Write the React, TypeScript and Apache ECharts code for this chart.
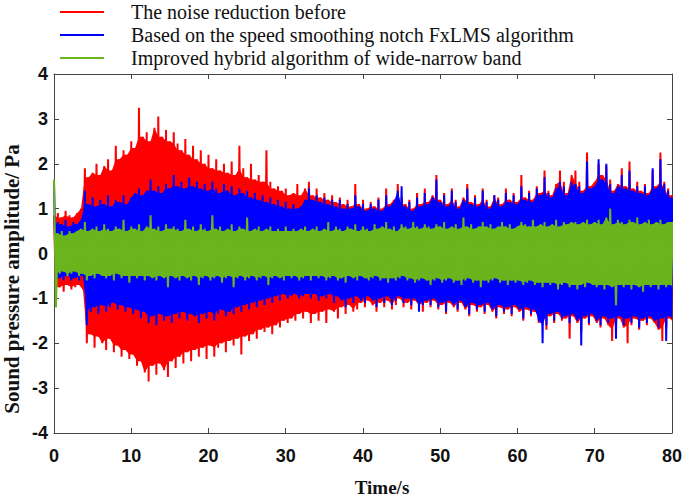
import React, { useEffect, useRef } from "react";
import * as echarts from "echarts";

// Sampling step of the read peak envelopes (seconds)
const T_STEP = 0.5;
const X_TICKS = [0, 80, 10];
const Y_TICKS = [-4, 4, 1];

const SERIES_NAMES = [
  "The noise reduction before",
  "Based on the speed smoothing notch FxLMS algorithm",
  "Improved hybrid algorithm of wide-narrow band",
];
const COLORS = ["#ff0000", "#0000ff", "#6ab41e"];

// Positive peaks, one every 0.5 s (t = 0 ... 80)
const RED_UPPER = [
  0.85, 0.9, 0.8, 0.95, 0.85, 0.8, 0.9, 1.0, 1.9, 1.7,
  1.8, 2.0, 1.75, 1.95, 2.1, 1.85, 2.4, 2.1, 2.3, 2.2,
  2.5, 2.35, 3.25, 2.6, 2.7, 2.5, 2.8, 3.05, 2.6, 2.75,
  2.5, 2.7, 2.45, 2.3, 2.55, 2.2, 2.4, 2.1, 2.3, 2.0,
  2.2, 1.9, 2.1, 1.85, 2.0, 1.8, 2.05, 1.75, 2.4, 1.9,
  1.7, 2.0, 1.65, 1.75, 1.6, 2.3, 1.6, 1.45, 1.5, 1.4,
  1.45, 1.3, 1.35, 1.55, 1.3, 1.45, 1.6, 1.3, 1.45, 1.25,
  1.35, 1.2, 1.3, 1.15, 1.25, 1.1, 1.2, 1.05, 1.55, 1.1,
  1.2, 1.0, 1.15, 1.05, 1.25, 1.0, 1.45, 1.1, 1.2, 1.55,
  1.25, 1.1, 1.2, 1.0, 1.35, 1.1, 1.45, 1.15, 1.3, 1.75,
  1.2, 1.35, 1.1, 1.45, 1.2, 1.05, 1.25, 1.55, 1.15, 1.3,
  1.1, 1.45, 1.2, 1.05, 1.3, 1.25, 1.1, 1.45, 1.2, 1.35,
  1.15, 1.75, 1.25, 1.4, 1.2, 1.5, 1.35, 1.85, 1.4, 1.3,
  1.55, 1.85, 1.6, 1.35, 1.75, 1.85, 1.6, 1.4, 2.25, 1.5,
  1.6, 2.0, 1.75, 1.95, 1.65, 1.4, 1.55, 1.9, 1.5, 2.05,
  1.45, 1.6, 1.4, 1.55, 1.35, 1.85, 1.5, 2.25, 1.6, 1.45,
  1.3,
];
// Negative peaks, one every 0.5 s (read 0.25 s after the positive one)
const RED_LOWER = [
  -0.8, -0.75, -0.85, -0.7, -0.8, -0.75, -0.7, -0.8, -2.0, -1.8,
  -2.1, -1.85, -2.0, -2.15, -1.9, -2.2, -2.05, -2.3, -2.15, -2.35,
  -2.25, -2.5, -2.4, -2.65, -2.85, -2.5, -2.7, -2.45, -2.6, -2.75,
  -2.4, -2.55, -2.3, -2.45, -2.2, -2.4, -2.15, -2.3, -2.1, -2.35,
  -2.05, -2.3, -2.1, -2.0, -2.2, -1.95, -2.05, -1.9, -2.25, -1.85,
  -1.95, -1.8, -1.9, -1.7, -1.75, -1.65, -1.8, -1.6, -1.65, -1.5,
  -1.55, -1.45, -1.5, -1.35, -1.45, -1.3, -1.55, -1.35, -1.5, -1.3,
  -1.55, -1.25, -1.3, -1.45, -1.2, -1.35, -1.15, -1.3, -1.25, -1.1,
  -1.2, -1.05, -1.15, -1.3, -1.1, -1.2, -1.05, -1.25, -1.15, -1.0,
  -1.2, -1.1, -1.25, -1.05, -1.15, -1.3, -1.1, -1.2, -1.05, -1.25,
  -1.15, -1.35, -1.1, -1.2, -1.3, -1.1, -1.25, -1.4, -1.15, -1.3,
  -1.2, -1.35, -1.15, -1.3, -1.45, -1.2, -1.35, -1.25, -1.4, -1.2,
  -1.3, -1.5, -1.25, -1.4, -1.3, -1.55, -1.35, -1.7, -1.4, -1.55,
  -1.35, -1.5, -1.45, -1.9, -1.4, -1.55, -1.75, -1.45, -1.6, -1.4,
  -1.55, -1.65, -1.45, -1.6, -1.95, -1.7, -1.45, -1.65, -2.0, -1.6,
  -1.45, -1.7, -1.5, -1.6, -1.45, -1.55, -1.7, -1.95, -1.65, -1.45,
  -1.55,
];
const BLUE_UPPER = [
  1.6, 0.7, 0.65, 0.75, 0.6, 0.7, 0.65, 0.75, 1.4, 1.1,
  1.25, 1.05, 1.2, 1.1, 1.3, 1.05, 1.2, 1.15, 1.3, 1.1,
  1.25, 1.35, 1.45, 1.3, 1.4, 1.65, 1.4, 1.5, 1.35, 1.55,
  1.45, 1.75, 1.5, 1.6, 1.45, 1.7, 1.5, 1.6, 1.45, 1.55,
  1.4, 1.6, 1.45, 1.35, 1.55, 1.4, 1.5, 1.3, 1.45, 1.35,
  1.4, 1.25, 1.35, 1.2, 1.3, 1.15, 1.25, 1.1, 1.2, 1.05,
  1.15, 1.0, 1.1, 1.0, 1.05, 1.2, 1.45, 1.2, 1.3, 1.15,
  1.25, 1.1, 1.2, 1.05, 1.2, 1.0, 1.1, 1.0, 1.3, 1.05,
  1.1, 0.95, 1.1, 1.0, 1.2, 0.95, 1.3, 1.05, 1.15, 1.4,
  1.5, 1.05, 1.15, 0.95, 1.25, 1.05, 1.35, 1.1, 1.25, 1.65,
  1.15, 1.3, 1.05, 1.4, 1.15, 1.0, 1.2, 1.45, 1.1, 1.25,
  1.05, 1.4, 1.15, 1.0, 1.3, 1.2, 1.05, 1.35, 1.15, 1.3,
  1.1, 1.5, 1.2, 1.35, 1.15, 1.45, 1.3, 1.7, 1.35, 1.25,
  1.45, 1.6, 1.5, 1.3, 1.6, 1.55, 1.5, 1.35, 2.05, 1.45,
  1.5, 2.1, 1.65, 2.0, 1.55, 1.35, 1.5, 1.75, 1.45, 1.85,
  1.4, 1.5, 1.35, 1.5, 1.3, 1.9, 1.45, 2.1, 1.55, 1.4,
  1.25,
];
const BLUE_LOWER = [
  -0.6, -0.55, -0.6, -0.5, -0.6, -0.55, -0.6, -0.5, -1.6, -1.3,
  -1.2, -1.35, -1.15, -1.3, -1.2, -1.1, -1.25, -1.15, -1.3, -1.2,
  -1.35, -1.25, -1.45, -1.3, -1.55, -1.4, -1.6, -1.35, -1.5, -1.4,
  -1.55, -1.35, -1.45, -1.3, -1.5, -1.35, -1.4, -1.55, -1.35, -1.45,
  -1.3, -1.5, -1.35, -1.25, -1.4, -1.3, -1.35, -1.2, -1.3, -1.15,
  -1.25, -1.1, -1.2, -1.05, -1.15, -1.0, -1.1, -0.95, -1.05, -0.9,
  -1.0, -0.95, -0.9, -1.0, -0.95, -0.9, -1.0, -0.9, -1.05, -0.95,
  -1.0, -0.9, -1.1, -0.95, -1.05, -1.2, -1.0, -1.1, -0.95, -1.05,
  -1.1, -0.95, -1.05, -1.2, -1.0, -1.1, -0.95, -1.15, -1.05, -0.95,
  -1.1, -1.0, -1.15, -1.0, -1.3, -1.15, -1.05, -1.15, -1.0, -1.2,
  -1.1, -1.3, -1.05, -1.15, -1.25, -1.05, -1.2, -1.35, -1.1, -1.25,
  -1.15, -1.3, -1.1, -1.25, -1.4, -1.15, -1.3, -1.2, -1.35, -1.15,
  -1.25, -1.45, -1.2, -1.35, -1.25, -1.5, -2.0, -1.6, -1.35, -1.5,
  -1.3, -1.45, -1.4, -1.55, -1.35, -1.5, -2.05, -1.4, -1.55, -1.35,
  -1.5, -1.6, -1.4, -1.55, -1.45, -1.9, -1.4, -1.6, -1.45, -1.55,
  -1.4, -1.65, -1.45, -1.55, -1.4, -1.5, -1.65, -1.45, -1.95, -1.4,
  -1.5,
];
const GREEN_UPPER = [
  1.65, 0.45, 0.5, 0.4, 0.5, 0.45, 0.5, 0.55, 0.7, 0.5,
  0.55, 0.6, 0.5, 0.65, 0.55, 0.5, 0.6, 0.55, 0.75, 0.5,
  0.6, 0.55, 0.65, 0.5, 0.6, 0.85, 0.55, 0.6, 0.5, 0.65,
  0.55, 0.6, 0.55, 0.5, 0.75, 0.55, 0.6, 0.5, 0.65, 0.55,
  0.5, 0.85, 0.55, 0.6, 0.5, 0.55, 0.65, 0.5, 0.6, 0.55,
  0.8, 0.5, 0.55, 0.6, 0.5, 0.55, 0.6, 0.5, 0.55, 0.5,
  0.6, 0.5, 0.55, 0.5, 0.55, 0.6, 0.5, 0.55, 0.6, 0.5,
  0.55, 0.7, 0.5, 0.6, 0.55, 0.5, 0.6, 0.55, 0.65, 0.5,
  0.6, 0.55, 0.5, 0.65, 0.55, 0.6, 0.7, 0.55, 0.6, 0.5,
  0.65, 0.6, 0.55, 0.7, 0.6, 0.55, 0.65, 0.6, 0.55, 0.65,
  0.6, 0.7, 0.55, 0.6, 0.65, 0.55, 0.8, 0.6, 0.65, 0.55,
  0.6, 0.7, 0.6, 0.65, 0.55, 0.6, 0.7, 0.6, 0.65, 0.55,
  0.6, 0.7, 0.65, 0.6, 0.75, 0.6, 0.65, 0.7, 0.6, 0.65,
  0.75, 0.6, 0.7, 0.65, 0.7, 0.7, 0.65, 0.7, 0.75, 0.65,
  0.7, 0.75, 0.65, 0.8, 1.0, 0.65, 0.75, 0.7, 0.65, 0.75,
  0.7, 0.8, 0.65, 0.7, 0.75, 0.65, 0.7, 0.75, 0.65, 0.7,
  0.7,
];
const GREEN_LOWER = [
  -1.2, -0.45, -0.4, -0.5, -0.45, -0.4, -0.5, -0.45, -0.6, -0.5,
  -0.55, -0.45, -0.5, -0.55, -0.5, -0.6, -0.45, -0.55, -0.5, -0.65,
  -0.5, -0.55, -0.5, -0.6, -0.5, -0.55, -0.6, -0.5, -0.55, -0.75,
  -0.5, -0.55, -0.6, -0.5, -0.55, -0.6, -0.5, -0.7, -0.55, -0.5,
  -0.6, -0.55, -0.5, -0.65, -0.55, -0.5, -0.75, -0.55, -0.5, -0.6,
  -0.55, -0.5, -0.6, -0.55, -0.5, -0.7, -0.55, -0.5, -0.55, -0.6,
  -0.5, -0.55, -0.5, -0.6, -0.55, -0.5, -0.6, -0.5, -0.55, -0.5,
  -0.6, -0.55, -0.5, -0.6, -0.55, -0.65, -0.5, -0.55, -0.6, -0.5,
  -0.55, -0.6, -0.55, -0.5, -0.6, -0.55, -0.65, -0.55, -0.6, -0.55,
  -0.5, -0.6, -0.55, -0.65, -0.6, -0.55, -0.6, -0.7, -0.6, -0.55,
  -0.65, -0.6, -0.55, -0.65, -0.6, -0.7, -0.6, -0.55, -0.65, -0.6,
  -0.75, -0.6, -0.65, -0.6, -0.55, -0.65, -0.6, -0.7, -0.6, -0.65,
  -0.6, -0.7, -0.65, -0.6, -0.7, -0.65, -0.75, -0.65, -0.7, -0.65,
  -0.8, -0.7, -0.65, -0.75, -0.7, -0.8, -0.7, -0.75, -0.65, -0.7,
  -0.75, -0.7, -0.8, -0.7, -0.75, -1.15, -0.7, -0.75, -0.7, -0.8,
  -0.7, -0.75, -0.85, -0.7, -0.75, -0.7, -0.8, -0.7, -0.75, -0.7,
  -0.75,
];

// Oscillating trace: each positive peak followed by the negative one
function zigzag(upper: number[], lower: number[]): [number, number][] {
  const pts: [number, number][] = [];
  for (let i = 0; i < upper.length; i++) {
    pts.push([i * T_STEP, upper[i]]);
    pts.push([i * T_STEP + T_STEP / 2, lower[i]]);
  }
  return pts;
}

// Dense core of the trace: the level that a peak and the next one both reach
function localCore(vals: number[], pick: (...v: number[]) => number): number[] {
  return vals.map((v, i) => pick(v, vals[Math.min(vals.length - 1, i + 1)]));
}

const AXIS_COLOR = "#444";
const SERIF = '"Liberation Serif", "Times New Roman", serif';
const SANS = '"Liberation Sans", Arial, sans-serif';

export default function App() {
  const ref = useRef<HTMLDivElement>(null);
  useEffect(() => {
    if (!ref.current) return;
    const chart = echarts.init(ref.current, null, { renderer: "svg" });
    const axisLine = { show: true, onZero: false, lineStyle: { color: AXIS_COLOR, width: 1 } };
    const axisTick = { show: true, inside: true, length: 5, lineStyle: { color: AXIS_COLOR, width: 1 } };
    const tickLabel = { fontFamily: SANS, fontWeight: "bold", fontSize: 18, color: "#111" };
    const envelopes: [number[], number[]][] = [
      [RED_UPPER, RED_LOWER],
      [BLUE_UPPER, BLUE_LOWER],
      [GREEN_UPPER, GREEN_LOWER],
    ];
    const series: any[] = [];
    envelopes.forEach(([up, lo], k) => {
      const coreUp = localCore(up, Math.min);
      const coreLo = localCore(lo, Math.max);
      series.push({
        type: "custom",
        silent: true,
        clip: true,
        z: 2 * k + 1,
        data: [[0, 0]],
        renderItem: (_p: any, api: any) => {
          const pts: number[][] = [];
          for (let i = 0; i < coreUp.length; i++) pts.push(api.coord([i * T_STEP, coreUp[i]]));
          for (let i = coreLo.length - 1; i >= 0; i--) pts.push(api.coord([i * T_STEP + T_STEP / 2, coreLo[i]]));
          return { type: "polygon", shape: { points: pts }, style: { fill: COLORS[k] } };
        },
      });
      series.push({
        name: SERIES_NAMES[k],
        type: "line",
        z: 2 * k + 2,
        data: zigzag(up, lo),
        symbol: "none",
        showSymbol: false,
        silent: true,
        clip: true,
        color: COLORS[k],
        lineStyle: { color: COLORS[k], width: 2, join: "bevel", cap: "butt" },
      });
    });
    chart.setOption({
      animation: false,
      backgroundColor: "#fff",
      grid: { left: 54, right: 12, top: 74, bottom: 64 },
      legend: {
        orient: "vertical",
        left: 55,
        top: -3,
        icon: "rect",
        itemWidth: 44,
        itemHeight: 2,
        itemGap: 3,
        data: SERIES_NAMES,
        textStyle: { fontFamily: SERIF, fontSize: 20, color: "#111", padding: [0, 0, 0, 22] },
      },
      xAxis: [
        {
          type: "value", position: "bottom", min: X_TICKS[0], max: X_TICKS[1], interval: X_TICKS[2],
          axisLine, axisTick, splitLine: { show: false },
          axisLabel: { ...tickLabel, margin: 14 },
        },
        {
          type: "value", position: "top", min: X_TICKS[0], max: X_TICKS[1], interval: X_TICKS[2],
          axisLine, axisTick, splitLine: { show: false }, axisLabel: { show: false },
        },
      ],
      yAxis: [
        {
          type: "value", position: "left", min: Y_TICKS[0], max: Y_TICKS[1], interval: Y_TICKS[2],
          axisLine, axisTick, splitLine: { show: false },
          axisLabel: { ...tickLabel, margin: 6 },
        },
        {
          type: "value", position: "right", min: Y_TICKS[0], max: Y_TICKS[1], interval: Y_TICKS[2],
          axisLine, axisTick, splitLine: { show: false }, axisLabel: { show: false },
        },
      ],
      graphic: [
        {
          type: "text", x: 12, y: 279, rotation: Math.PI / 2,
          style: {
            text: "Sound pressure amplitude/ Pa", font: `bold 21px ${SERIF}`, fill: "#111",
            align: "center", verticalAlign: "middle",
          },
        },
        {
          type: "text", x: 382, y: 487,
          style: {
            text: "Time/s", font: `bold 19px ${SERIF}`, fill: "#111",
            align: "center", verticalAlign: "middle",
          },
        },
      ],
      series,
    });
    return () => chart.dispose();
  }, []);
  return <div ref={ref} style={{ position: "fixed", left: 0, top: 0, width: 685, height: 497 }} />;
}
